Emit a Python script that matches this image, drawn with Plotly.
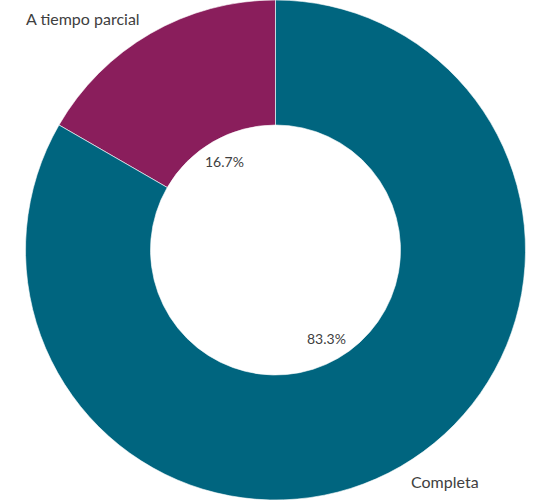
import math
import plotly.graph_objects as go

labels = ["A tiempo parcial", "Completa"]
values = [1, 5]
colors = ["#8A1E5C", "#00657F"]

W, H = 551, 500
R = min(W, H) / 2  # pie radius in px
hole = 0.5
label_dist = 1.07
pct_dist = 0.41
font_family = "Lato, 'Noto Sans', sans-serif"
text_color = "#404040"

total = sum(values)

fig = go.Figure(go.Pie(
    labels=labels,
    values=values,
    hole=hole,
    sort=False,
    direction="clockwise",
    rotation=-360.0 * values[0] / total,
    marker=dict(colors=colors, line=dict(color="rgba(255,255,255,0.6)", width=1)),
    textinfo="none",
    hoverinfo="label+percent",
    showlegend=False,
    domain=dict(x=[0, 1], y=[0, 1]),
))

# first slice ends at 12 o'clock; slices progress counterclockwise visually
start = 90.0
annotations = []
for lab, v in zip(labels, values):
    span = 360.0 * v / total
    mid = math.radians(start + span / 2)
    start += span
    cx, cy = math.cos(mid), math.sin(mid)
    lx = 0.5 + label_dist * R * cx / W
    ly = 0.5 + label_dist * R * cy / H
    annotations.append(dict(
        x=lx, y=ly, xref="paper", yref="paper", text=lab, showarrow=False,
        xanchor="left" if cx >= 0 else "right", yanchor="middle",
        font=dict(family=font_family, size=16, color=text_color),
    ))
    px = 0.5 + pct_dist * R * cx / W
    py = 0.5 + pct_dist * R * cy / H
    annotations.append(dict(
        x=px, y=py, xref="paper", yref="paper",
        text=f"{100 * v / total:.1f}%", showarrow=False,
        xanchor="center", yanchor="middle",
        font=dict(family=font_family, size=14, color=text_color),
    ))

fig.update_layout(
    width=W, height=H,
    margin=dict(l=0, r=0, t=0, b=0),
    paper_bgcolor="white",
    plot_bgcolor="white",
    annotations=annotations,
)

fig.write_html("out.html", config={"displayModeBar": False},
               post_script="document.body.style.margin='0';")
